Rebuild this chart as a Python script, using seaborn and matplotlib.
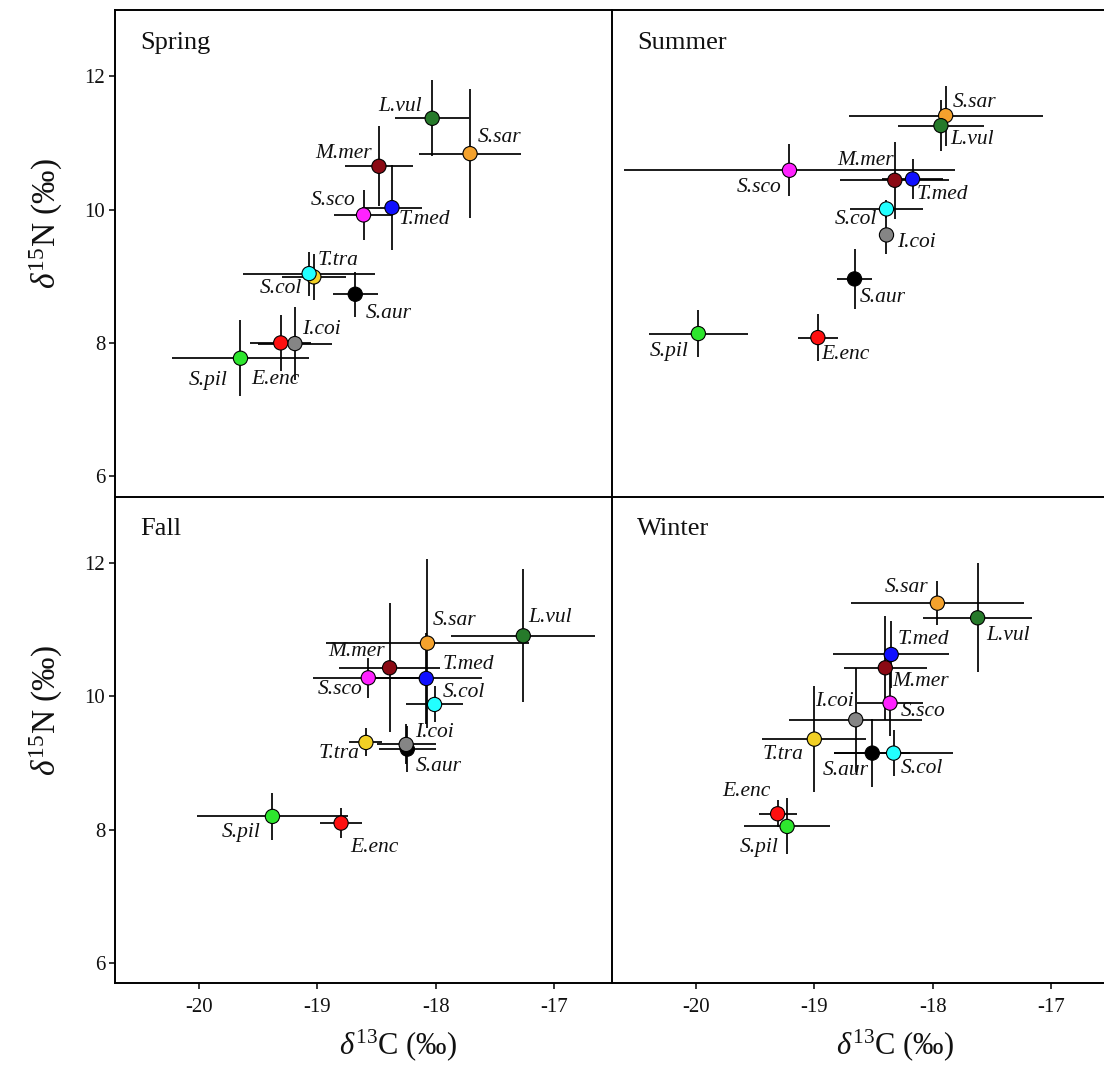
import numpy as np
import pandas as pd
import matplotlib
matplotlib.use("Agg")
import matplotlib.pyplot as plt
import seaborn as sns

nan = np.nan

# Species (drawing order) and seasons
species = ["S.sar", "L.vul", "M.mer", "T.med", "S.sco", "T.tra",
           "S.col", "S.aur", "I.coi", "E.enc", "S.pil"]
seasons = ["Spring", "Summer", "Fall", "Winter"]

# Mean δ13C / δ15N (‰) and standard deviations, in species order
spring_c   = [-17.71, -18.03, -18.48, -18.37, -18.61, -19.03, -19.07, -18.68, -19.19, -19.31, -19.65]
spring_n   = [10.84, 11.37, 10.65, 10.03, 9.92, 8.99, 9.04, 8.73, 7.99, 8.00, 7.77]
spring_csd = [0.43, 0.31, 0.29, 0.25, 0.25, 0.27, 0.56, 0.19, 0.31, 0.26, 0.58]
spring_nsd = [0.97, 0.57, 0.60, 0.64, 0.37, 0.35, 0.33, 0.34, 0.55, 0.42, 0.57]

summer_c   = [-17.89, -17.93, -18.32, -18.17, -19.21, nan, -18.39, -18.66, -18.39, -18.97, -19.98]
summer_n   = [11.41, 11.26, 10.44, 10.46, 10.59, nan, 10.01, 8.96, 9.62, 8.08, 8.14]
summer_csd = [0.82, 0.36, 0.46, 0.26, 1.40, nan, 0.31, 0.15, 0.05, 0.17, 0.42]
summer_nsd = [0.45, 0.38, 0.58, 0.30, 0.39, nan, 0.14, 0.45, 0.28, 0.35, 0.35]

fall_c   = [-18.07, -17.26, -18.39, -18.08, -18.57, -18.59, -18.01, -18.24, -18.25, -18.80, -19.38]
fall_n   = [10.80, 10.91, 10.43, 10.27, 10.28, 9.31, 9.88, 9.21, 9.28, 8.10, 8.20]
fall_csd = [0.86, 0.61, 0.43, 0.47, 0.47, 0.14, 0.24, 0.24, 0.25, 0.18, 0.64]
fall_nsd = [1.27, 1.00, 0.97, 0.68, 0.30, 0.21, 0.27, 0.35, 0.30, 0.23, 0.35]

winter_c   = [-17.96, -17.62, -18.40, -18.35, -18.36, -19.00, -18.33, -18.51, -18.65, -19.31, -19.23]
winter_n   = [11.40, 11.18, 10.43, 10.63, 9.90, 9.36, 9.15, 9.15, 9.65, 8.24, 8.05]
winter_csd = [0.73, 0.46, 0.35, 0.49, 0.28, 0.44, 0.50, 0.32, 0.56, 0.16, 0.36]
winter_nsd = [0.33, 0.82, 0.78, 0.50, 0.50, 0.79, 0.34, 0.51, 0.78, 0.20, 0.42]

x_ticks = [-20, -19, -18, -17]
y_ticks = [6, 8, 10, 12]

palette = {
    "S.sar": "#F4A22D", "L.vul": "#267A2A", "M.mer": "#8B0A14",
    "T.med": "#1010FF", "S.sco": "#FF22FF", "T.tra": "#F2D024",
    "S.col": "#22FFFF", "S.aur": "#000000", "I.coi": "#858585",
    "E.enc": "#FF1010", "S.pil": "#2EE62E",
}

# Label placement around each point (pixel offsets: right, up)
label_offsets = {
    "Spring": {"L.vul": (-32, 12), "S.sar": (30, 16), "M.mer": (-35, 13),
               "S.sco": (-30, 14), "T.med": (32, -12), "T.tra": (24, 16),
               "S.col": (-28, -15), "S.aur": (33, -19), "I.coi": (27, 14),
               "E.enc": (-5, -37), "S.pil": (-32, -22)},
    "Summer": {"S.sar": (29, 13), "L.vul": (31, -14), "S.sco": (-30, -17),
               "M.mer": (-29, 20), "T.med": (30, -16), "S.col": (-31, -11),
               "I.coi": (30, -8), "S.aur": (28, -19), "E.enc": (28, -17),
               "S.pil": (-29, -18)},
    "Fall": {"L.vul": (27, 18), "S.sar": (27, 23), "M.mer": (-33, 16),
             "T.med": (42, 14), "S.sco": (-28, -12), "S.col": (29, 12),
             "I.coi": (28, 12), "S.aur": (31, -17), "T.tra": (-27, -11),
             "S.pil": (-31, -16), "E.enc": (33, -24)},
    "Winter": {"S.sar": (-31, 16), "L.vul": (30, -18), "T.med": (32, 15),
               "M.mer": (35, -14), "S.sco": (33, -8), "I.coi": (-21, 18),
               "T.tra": (-31, -15), "S.aur": (-27, -17), "S.col": (28, -15),
               "E.enc": (-31, 22), "S.pil": (-28, -21)},
}

frames = []
for season, c, n, csd, nsd in [
    ("Spring", spring_c, spring_n, spring_csd, spring_nsd),
    ("Summer", summer_c, summer_n, summer_csd, summer_nsd),
    ("Fall", fall_c, fall_n, fall_csd, fall_nsd),
    ("Winter", winter_c, winter_n, winter_csd, winter_nsd),
]:
    frames.append(pd.DataFrame({"season": season, "species": species,
                                "d13C": c, "d15N": n, "sdC": csd, "sdN": nsd}))
df = pd.concat(frames, ignore_index=True).dropna()

sns.set_theme(style="ticks")
plt.rcParams["font.family"] = ["Liberation Serif", "DejaVu Serif"]
plt.rcParams["mathtext.fontset"] = "custom"
plt.rcParams["mathtext.rm"] = "Liberation Serif"
plt.rcParams["mathtext.it"] = "Liberation Serif:italic"

fig = plt.figure(figsize=(11.04, 10.86), dpi=100)
W, H = 0.4502, 0.4480
positions = {
    "Spring": (0.1042, 0.5431, W, H),
    "Summer": (0.5543, 0.5431, W, H),
    "Fall": (0.1042, 0.0948, W, H),
    "Winter": (0.5543, 0.0948, W, H),
}

ylabel = r"$\delta^{15}$N (‰)"
xlabel = r"$\delta^{13}$C (‰)"

for season in seasons:
    ax = fig.add_axes(positions[season])
    sub = df[df["season"] == season]

    ax.errorbar(sub["d13C"], sub["d15N"], xerr=sub["sdC"], yerr=sub["sdN"],
                fmt="none", ecolor="black", elinewidth=1.25, capsize=0, zorder=2)
    sns.scatterplot(data=sub, x="d13C", y="d15N", hue="species",
                    hue_order=species, palette=palette, s=105,
                    edgecolor="black", linewidth=0.8, legend=False,
                    ax=ax, zorder=3)

    for _, row in sub.iterrows():
        dx, dy = label_offsets[season][row["species"]]
        ax.annotate(row["species"], (row["d13C"], row["d15N"]),
                    xytext=(dx, dy), textcoords="offset pixels",
                    ha="center", va="center", fontsize=15.5,
                    style="italic", color="#111111", zorder=4)

    ax.text(0.05, 0.955, season, transform=ax.transAxes, ha="left",
            va="top", fontsize=19, color="#111111")

    ax.set_xlim(-20.71, -16.51)
    ax.set_ylim(5.70, 13.0)
    ax.set_xticks(x_ticks)
    ax.set_yticks(y_ticks)
    ax.set_xticklabels([str(t) for t in x_ticks])
    ax.set_yticklabels([str(t) for t in y_ticks])
    ax.tick_params(direction="out", length=4, width=1.1, color="black",
                   labelsize=15, labelcolor="#111111")
    ax.tick_params(axis="x", pad=7)
    ax.tick_params(axis="y", pad=3)
    for sp in ax.spines.values():
        sp.set_visible(True)
        sp.set_linewidth(1.4)
        sp.set_color("black")

    bottom_row = season in ("Fall", "Winter")
    left_col = season in ("Spring", "Fall")
    if bottom_row:
        ax.set_xlabel(xlabel, fontsize=22, va="center", color="#111111")
        ax.xaxis.set_label_coords(0.57, -0.127)
    else:
        # shared border with the lower panel is drawn once
        ax.spines["bottom"].set_visible(False)
        ax.set_xlabel("")
        ax.tick_params(axis="x", bottom=False, labelbottom=False)
    if left_col:
        # shared border with the right panel is drawn once
        ax.spines["right"].set_visible(False)
        ax.set_ylabel(ylabel, fontsize=24, va="center", color="#111111")
        ax.yaxis.set_label_coords(-0.137, 0.56)
    else:
        ax.set_ylabel("")
        ax.tick_params(axis="y", left=False, labelleft=False)

fig.savefig("out.png", dpi=100, facecolor="white")
